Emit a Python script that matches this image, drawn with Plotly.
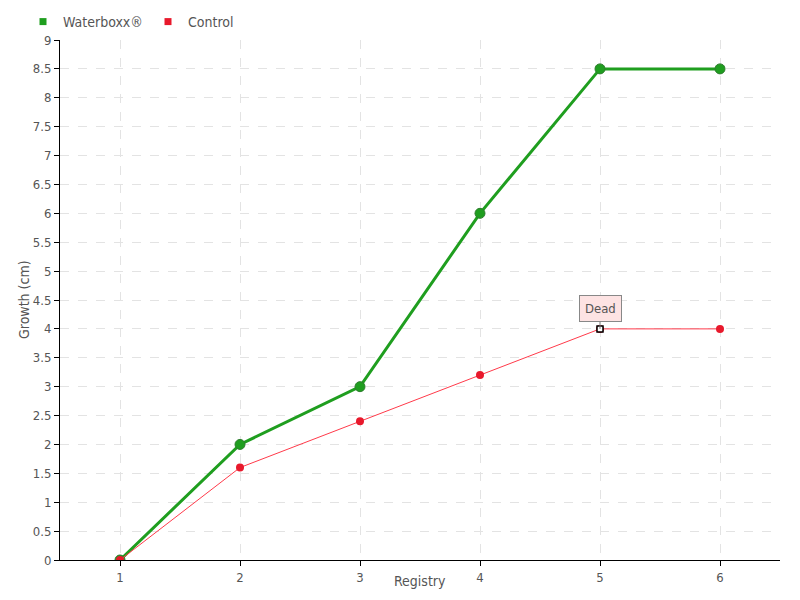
import plotly.graph_objects as go

registry = [1, 2, 3, 4, 5, 6]
waterboxx = [0, 2, 3, 6, 8.5, 8.5]
control = [0, 1.6, 2.4, 3.2, 4, 4]
dead_x = [5]
dead_y = [4]
y_ticks = [i * 0.5 for i in range(19)]
y_labels = ["%g" % v for v in y_ticks]

font = "DejaVu Sans Condensed, sans-serif"
green = "#1f9e1f"
red = "#e8192c"

fig = go.Figure()
fig.add_trace(go.Scatter(
    x=registry, y=waterboxx, name="Waterboxx®", mode="lines+markers",
    line=dict(color=green, width=3), showlegend=False,
    marker=dict(color=green, size=10, line=dict(color="#2e7d2e", width=1)),
))
fig.add_trace(go.Scatter(
    x=registry, y=control, name="Control", mode="lines+markers",
    line=dict(color="#ff3a4a", width=1), showlegend=False,
    marker=dict(color=red, size=8),
))
fig.add_trace(go.Scatter(
    x=dead_x, y=dead_y, mode="markers", showlegend=False,
    marker=dict(symbol="square", color="white", size=6, line=dict(color="black", width=1.5)),
))
# legend entries (small squares like the original)
fig.add_trace(go.Scatter(x=[None], y=[None], mode="markers", name="Waterboxx®",
                         marker=dict(symbol="square", color=green, size=7)))
fig.add_trace(go.Scatter(x=[None], y=[None], mode="markers", name="Control",
                         marker=dict(symbol="square", color=red, size=7)))

fig.add_annotation(
    x=5, y=4, text="Dead", showarrow=True, arrowhead=0, arrowwidth=1,
    arrowcolor="#777", ax=0, ay=-20, bgcolor="#fde3e3", bordercolor="#888",
    borderwidth=1, borderpad=5, font=dict(family=font, size=13, color="#555"),
)
# axis titles, placed by hand so they sit close to the ticks
fig.add_annotation(x=0, y=0.5, xref="paper", yref="paper", xshift=-36,
                   xanchor="center", yanchor="middle",
                   text="Growth (cm)", textangle=-90, showarrow=False,
                   font=dict(family=font, size=14, color="#555"))
fig.add_annotation(x=0.5, y=0, xref="paper", yref="paper", yshift=-21,
                   xanchor="center", yanchor="middle",
                   text="Registry", showarrow=False,
                   font=dict(family=font, size=14, color="#555"))

# page body adds an 8px offset, margins compensate for it
fig.update_layout(
    width=800, height=600,
    margin=dict(l=52, r=28, t=32, b=48, autoexpand=False),
    plot_bgcolor="white", paper_bgcolor="white",
    font=dict(family=font, size=14, color="#555"),
    legend=dict(orientation="h", x=15 / 800, xanchor="left", xref="container",
                y=1 - 14 / 600, yanchor="middle", yref="container",
                font=dict(size=14, color="#555"), itemwidth=30,
                entrywidth=80, entrywidthmode="pixels",
                bgcolor="rgba(0,0,0,0)"),
    showlegend=True,
)
fig.update_xaxes(
    range=[0.5, 6.5], tickvals=registry, ticks="outside", ticklen=5,
    tickfont=dict(size=13),
    tickcolor="black", showline=True, linecolor="black", linewidth=1,
    showgrid=True, gridcolor="#e3e3e3", griddash="dash", zeroline=False,
    automargin=False,
)
fig.update_yaxes(
    range=[0, 9], tickvals=y_ticks, ticktext=y_labels, ticks="outside", ticklen=5,
    tickfont=dict(size=13),
    tickcolor="black", showline=True, linecolor="black", linewidth=1,
    showgrid=True, gridcolor="#e3e3e3", griddash="dash", zeroline=False,
    automargin=False,
)

fig.write_html("out.html")
